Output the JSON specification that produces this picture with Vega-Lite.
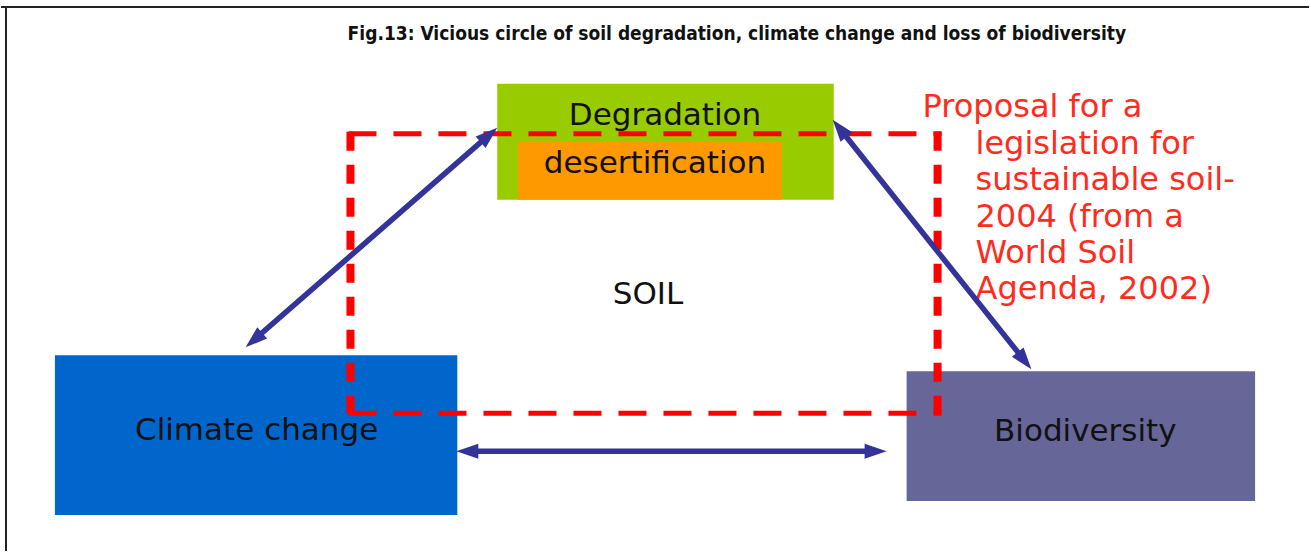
{
  "$schema": "https://vega.github.io/schema/vega-lite/v6.json",
  "width": 1310,
  "height": 552,
  "padding": 0,
  "autosize": {"type": "fit", "contains": "padding"},
  "background": "white",
  "config": {"view": {"stroke": null}, "axis": {"disable": true}},
  "datasets": {
    "frame": [
      {"x": 0, "y": 7, "x2": 1310, "y2": 7},
      {"x": 5, "y": 7, "x2": 5, "y2": 552}
    ],
    "boxes": [
      {"name": "Climate change", "x": 54, "x2": 457, "y": 356, "y2": 516},
      {"name": "Biodiversity", "x": 907, "x2": 1256, "y": 372, "y2": 502},
      {"name": "Degradation", "x": 497, "x2": 834, "y": 84, "y2": 200},
      {"name": "desertification", "x": 518, "x2": 782, "y": 142, "y2": 200}
    ],
    "dash_h": [
      {"x": 348, "y": 134, "x2": 942, "y2": 134},
      {"x": 348, "y": 414, "x2": 942, "y2": 414}
    ],
    "dash_v": [
      {"x": 350, "y": 132, "x2": 350, "y2": 414},
      {"x": 938, "y": 132, "x2": 938, "y2": 414}
    ],
    "shafts": [
      {"x": 252.5, "y": 341.4, "x2": 489.5, "y2": 134.6},
      {"x": 839.2, "y": 127.8, "x2": 1025.8, "y2": 362.2},
      {"x": 466, "y": 452, "x2": 877, "y2": 452}
    ],
    "heads": [
      {"x": 497, "y": 128, "ang": 48.9},
      {"x": 245, "y": 348, "ang": 228.9},
      {"x": 833, "y": 120, "ang": 321.5},
      {"x": 1032, "y": 370, "ang": 141.5},
      {"x": 456, "y": 452, "ang": 270},
      {"x": 887, "y": 452, "ang": 90}
    ],
    "labels": [
      {"x": 665, "y": 125, "text": "Degradation"},
      {"x": 655, "y": 173, "text": "desertification"},
      {"x": 256, "y": 441, "text": "Climate change"},
      {"x": 1086, "y": 442, "text": "Biodiversity"},
      {"x": 648, "y": 305, "text": "SOIL"}
    ],
    "proposal": [
      {"x": 923, "y": 117, "text": "Proposal for a"},
      {"x": 976, "y": 154, "text": "legislation for"},
      {"x": 976, "y": 190, "text": "sustainable soil-"},
      {"x": 976, "y": 227, "text": "2004 (from a"},
      {"x": 976, "y": 263, "text": "World Soil"},
      {"x": 976, "y": 300, "text": "Agenda, 2002)"}
    ],
    "title": [
      {"x": 737, "y": 40, "text": "Fig.13: Vicious circle of soil degradation, climate change and loss of biodiversity"}
    ]
  },
  "layer": [
    {
      "data": {"name": "frame"},
      "mark": {"type": "rule", "color": "#222222", "strokeWidth": 2},
      "encoding": {
        "x": {"field": "x", "type": "quantitative", "scale": {"domain": [0, 1310], "nice": false, "zero": false}, "axis": null},
        "y": {"field": "y", "type": "quantitative", "scale": {"domain": [0, 552], "nice": false, "zero": false, "reverse": true}, "axis": null},
        "x2": {"field": "x2"},
        "y2": {"field": "y2"}
      }
    },
    {
      "data": {"name": "boxes"},
      "mark": {"type": "rect", "opacity": 1},
      "encoding": {
        "x": {"field": "x", "type": "quantitative", "axis": null},
        "y": {"field": "y", "type": "quantitative", "axis": null},
        "x2": {"field": "x2"},
        "y2": {"field": "y2"},
        "color": {
          "field": "name",
          "type": "nominal",
          "scale": {"domain": ["Climate change", "Biodiversity", "Degradation", "desertification"], "range": ["#0066CC", "#666699", "#99CC00", "#FF9900"]},
          "legend": null
        }
      }
    },
    {
      "data": {"name": "labels"},
      "mark": {"type": "text", "font": "DejaVu Sans", "fontSize": 31, "color": "#111111", "align": "center", "baseline": "alphabetic"},
      "encoding": {
        "x": {"field": "x", "type": "quantitative", "axis": null},
        "y": {"field": "y", "type": "quantitative", "axis": null},
        "text": {"field": "text"}
      }
    },
    {
      "data": {"name": "proposal"},
      "mark": {"type": "text", "font": "DejaVu Sans", "fontSize": 32, "color": "#FF2B1C", "align": "left", "baseline": "alphabetic"},
      "encoding": {
        "x": {"field": "x", "type": "quantitative", "axis": null},
        "y": {"field": "y", "type": "quantitative", "axis": null},
        "text": {"field": "text"}
      }
    },
    {
      "data": {"name": "dash_h"},
      "mark": {"type": "rule", "color": "#FF0000", "strokeWidth": 5, "strokeDash": [28, 17]},
      "encoding": {
        "x": {"field": "x", "type": "quantitative", "axis": null},
        "y": {"field": "y", "type": "quantitative", "axis": null},
        "x2": {"field": "x2"},
        "y2": {"field": "y2"}
      }
    },
    {
      "data": {"name": "dash_v"},
      "mark": {"type": "rule", "color": "#FF0000", "strokeWidth": 8, "strokeDash": [19, 14]},
      "encoding": {
        "x": {"field": "x", "type": "quantitative", "axis": null},
        "y": {"field": "y", "type": "quantitative", "axis": null},
        "x2": {"field": "x2"},
        "y2": {"field": "y2"}
      }
    },
    {
      "data": {"name": "shafts"},
      "mark": {"type": "rule", "color": "#333399", "strokeWidth": 5.5},
      "encoding": {
        "x": {"field": "x", "type": "quantitative", "axis": null},
        "y": {"field": "y", "type": "quantitative", "axis": null},
        "x2": {"field": "x2"},
        "y2": {"field": "y2"}
      }
    },
    {
      "data": {"name": "heads"},
      "mark": {"type": "point", "filled": true, "opacity": 1, "color": "#333399", "size": 400, "shape": "M0,0L0.75,2.2L-0.75,2.2Z"},
      "encoding": {
        "x": {"field": "x", "type": "quantitative", "axis": null},
        "y": {"field": "y", "type": "quantitative", "axis": null},
        "angle": {"field": "ang", "type": "quantitative", "scale": null}
      }
    },
    {
      "data": {"name": "title"},
      "mark": {"type": "text", "font": "DejaVu Sans Condensed", "fontWeight": "bold", "fontSize": 19, "color": "#111111", "align": "center", "baseline": "alphabetic"},
      "encoding": {
        "x": {"field": "x", "type": "quantitative", "axis": null},
        "y": {"field": "y", "type": "quantitative", "axis": null},
        "text": {"field": "text"}
      }
    }
  ]
}
